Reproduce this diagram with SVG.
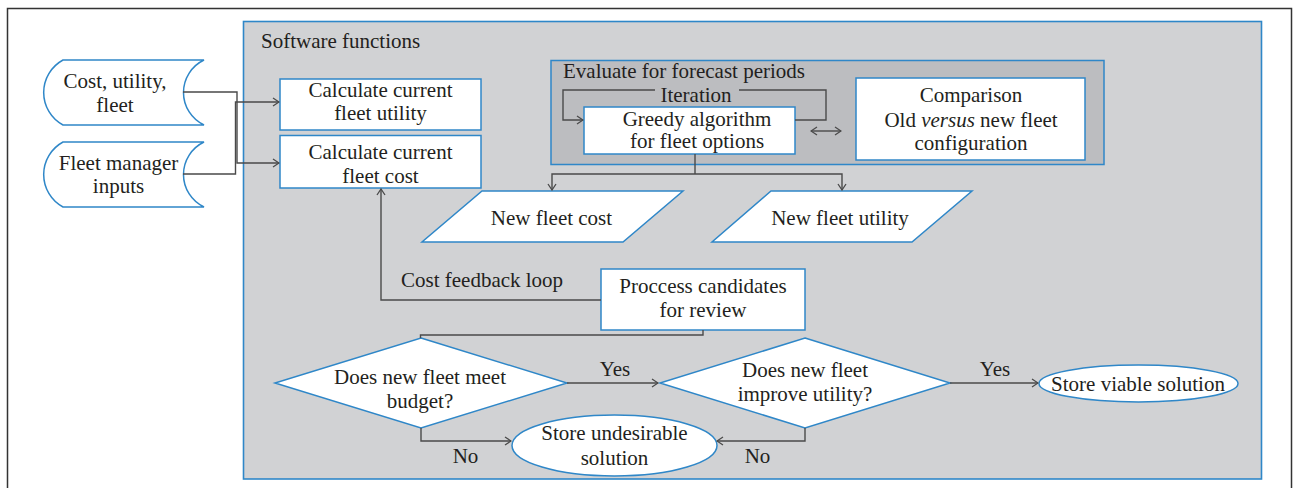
<svg xmlns="http://www.w3.org/2000/svg" width="1293" height="488" viewBox="0 0 1293 488">
<style>
text{font-family:'Liberation Serif','DejaVu Serif',serif;font-size:21px;fill:#231f20}
.c{text-anchor:middle}
.node{fill:#fff;stroke:#2f87c8;stroke-width:1.5}
.conn{fill:none;stroke:#4a4a4a;stroke-width:1.4}
</style>
<defs>
<marker id="ah" viewBox="0 0 10 10" refX="9" refY="5" markerWidth="10" markerHeight="10" markerUnits="userSpaceOnUse" orient="auto-start-reverse">
<path d="M3,1 L9,5 L3,9" fill="none" stroke="#4a4a4a" stroke-width="1.3"/>
</marker>
</defs>
<rect width="1293" height="488" fill="#fff"/>
<rect x="7.5" y="8.5" width="1284" height="500" fill="#fff" stroke="#333" stroke-width="1.5"/>
<g id="software-functions">
<rect x="243.5" y="21.5" width="1018" height="457.5" fill="#d1d2d4" stroke="#2f87c8" stroke-width="1.6"/>
<text x="261" y="48">Software functions</text>
</g>
<g id="evaluate">
<rect x="551" y="60.5" width="553" height="104" fill="#bcbdc0" stroke="#2f87c8" stroke-width="1.5"/>
<text x="563" y="78">Evaluate for forecast periods</text>
</g>
<g id="input-cost">
<path class="node" d="M63,60 H204 A36,36 0 0,0 204,125 H63 A37,37 0 0,1 63,60 Z"/>
<text class="c" x="115" y="88">Cost, utility,</text>
<text class="c" x="115" y="112">fleet</text>
</g>
<g id="input-manager">
<path class="node" d="M63,142 H204 A36,36 0 0,0 204,207 H63 A37,37 0 0,1 63,142 Z"/>
<text class="c" x="118.5" y="170">Fleet manager</text>
<text class="c" x="118.5" y="193">inputs</text>
</g>
<g id="calc-utility">
<rect class="node" x="280" y="79" width="201" height="51"/>
<text class="c" x="380.5" y="97">Calculate current</text>
<text class="c" x="380.5" y="120">fleet utility</text>
</g>
<g id="calc-cost">
<rect class="node" x="280" y="135.5" width="201" height="52.5"/>
<text class="c" x="380.5" y="159">Calculate current</text>
<text class="c" x="380.5" y="183">fleet cost</text>
</g>
<g id="greedy">
<rect class="node" x="584" y="107" width="211" height="47"/>
<text class="c" x="697" y="126">Greedy algorithm</text>
<text class="c" x="697" y="148">for fleet options</text>
</g>
<g id="comparison">
<rect class="node" x="856" y="78" width="229" height="82"/>
<text class="c" x="971" y="102">Comparison</text>
<text class="c" x="971" y="127">Old <tspan font-style="italic">versus</tspan> new fleet</text>
<text class="c" x="971" y="150">configuration</text>
</g>
<g id="new-cost">
<polygon class="node" points="482,191 683,191 623,242 422,242"/>
<text class="c" x="551.5" y="225">New fleet cost</text>
</g>
<g id="new-utility">
<polygon class="node" points="771,191 972,191 912,242 712,242"/>
<text class="c" x="840" y="225">New fleet utility</text>
</g>
<g id="process">
<rect class="node" x="601" y="269" width="204" height="61"/>
<text class="c" x="703" y="293">Proccess candidates</text>
<text class="c" x="703" y="317">for review</text>
</g>
<g id="budget">
<polygon class="node" points="421,338 567,383 421,428 275,383"/>
<text class="c" x="420" y="384">Does new fleet meet</text>
<text class="c" x="420" y="408">budget?</text>
</g>
<g id="improve">
<polygon class="node" points="805,338 950,383 805,428 660,383"/>
<text class="c" x="805" y="377">Does new fleet</text>
<text class="c" x="805" y="401">improve utility?</text>
</g>
<g id="viable">
<ellipse class="node" cx="1138.5" cy="383.5" rx="99.5" ry="18.5"/>
<text class="c" x="1138" y="391">Store viable solution</text>
</g>
<g id="undesirable">
<ellipse class="node" cx="614.5" cy="445.5" rx="102.5" ry="30.5"/>
<text class="c" x="614.5" y="440">Store undesirable</text>
<text class="c" x="614.5" y="465">solution</text>
</g>
<g id="connectors">
<path class="conn" d="M183,92 H237 V163 H279" marker-end="url(#ah)"/>
<path class="conn" d="M183,174 H235.5 V102 H279" marker-end="url(#ah)"/>
<path class="conn" d="M795,120 H826 V90 H739"/>
<path class="conn" d="M655,90 H563 V120 H583" marker-end="url(#ah)"/>
<text class="c" x="696" y="101.5" font-size="20">Iteration</text>
<path class="conn" d="M811,131 H841" marker-start="url(#ah)" marker-end="url(#ah)"/>
<path class="conn" d="M695,154 V174"/>
<path class="conn" d="M695,174 H552 V190" marker-end="url(#ah)"/>
<path class="conn" d="M695,174 H842 V190" marker-end="url(#ah)"/>
<path class="conn" d="M601,300 H381 V189" marker-end="url(#ah)"/>
<text x="401" y="287">Cost feedback loop</text>
<path class="conn" d="M703,330 V335 H420.5 V338"/>
<path class="conn" d="M567,383 H658" marker-end="url(#ah)"/>
<text class="c" x="615" y="376">Yes</text>
<path class="conn" d="M950,383 H1038" marker-end="url(#ah)"/>
<text class="c" x="995" y="376">Yes</text>
<path class="conn" d="M421,428 V441 H511" marker-end="url(#ah)"/>
<text class="c" x="465.5" y="463">No</text>
<path class="conn" d="M805,428 V441 H717" marker-end="url(#ah)"/>
<text class="c" x="757.5" y="463">No</text>
</g>
</svg>
